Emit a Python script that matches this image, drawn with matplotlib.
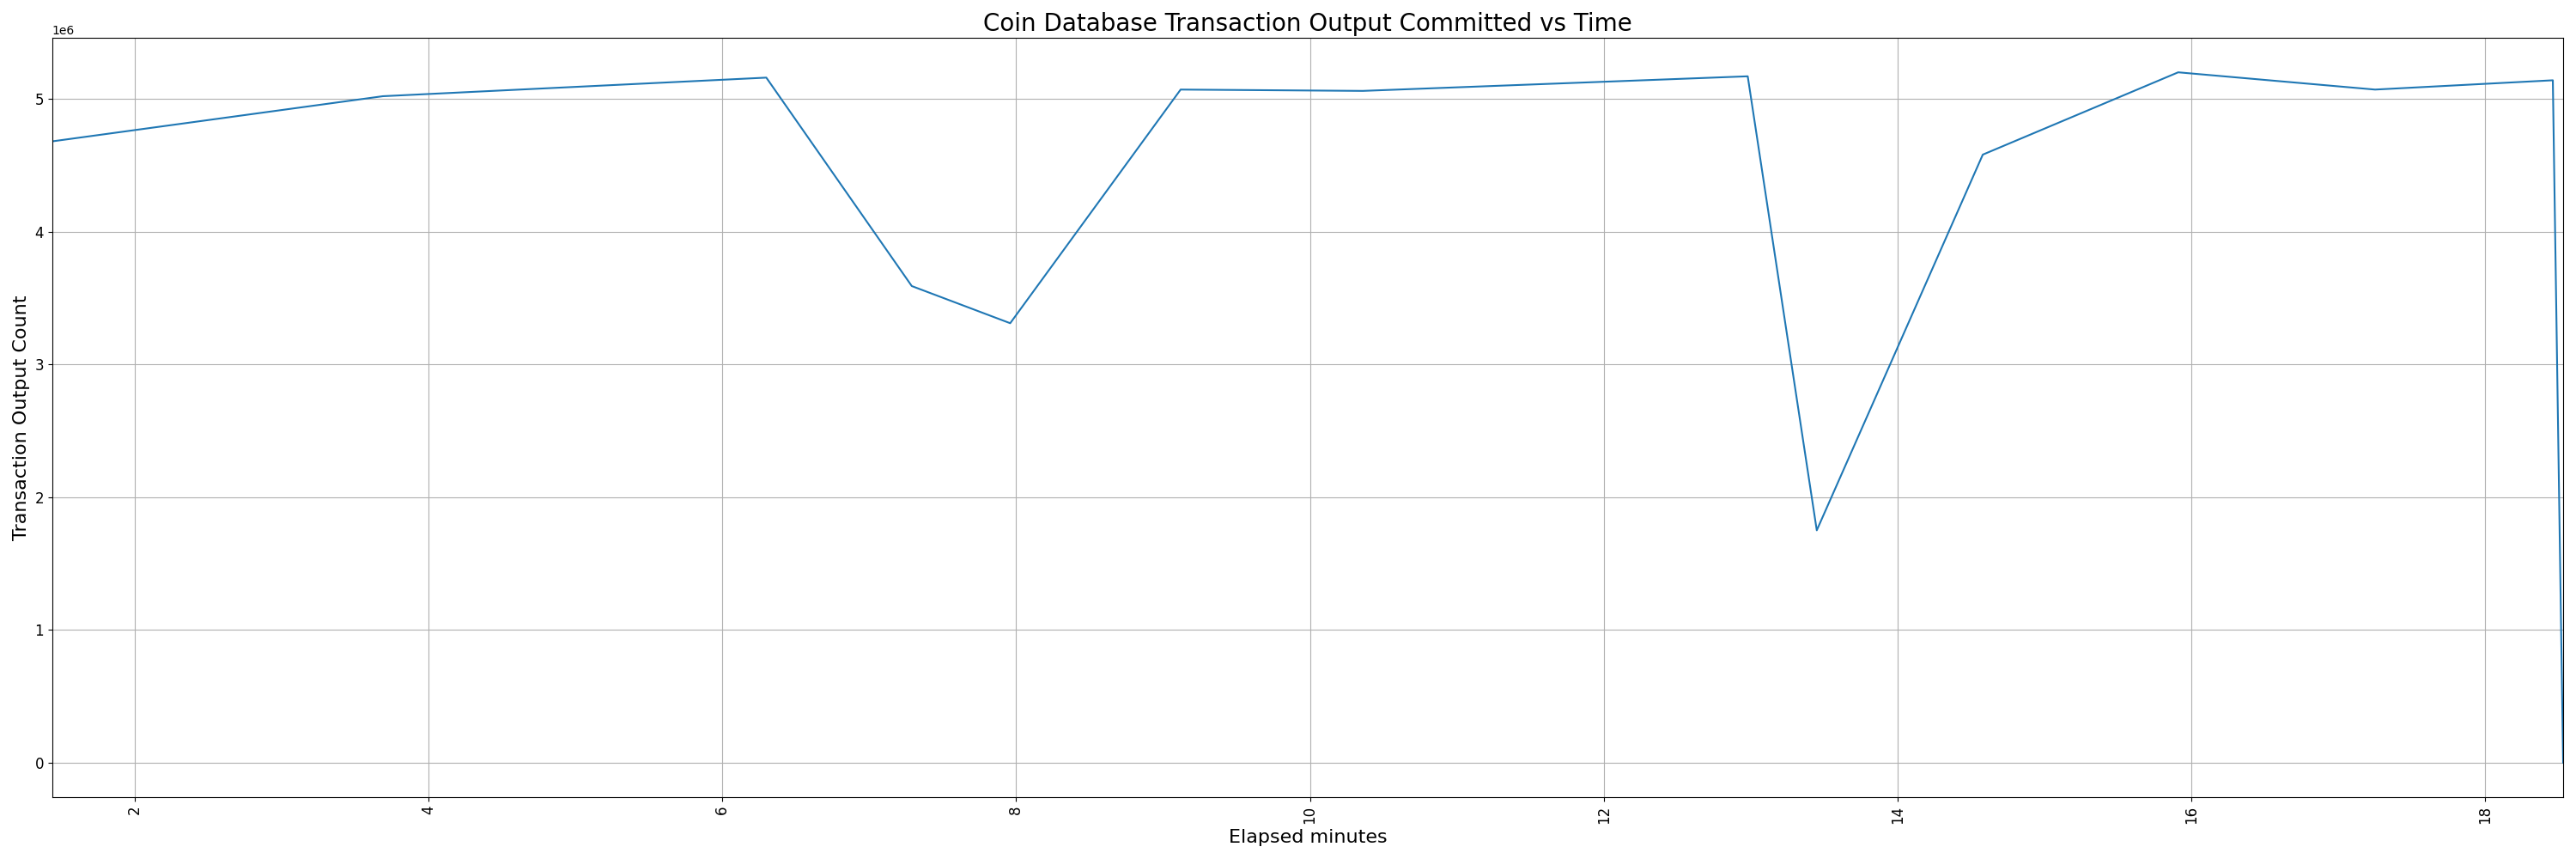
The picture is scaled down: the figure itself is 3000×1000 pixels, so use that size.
import matplotlib
matplotlib.use("Agg")
import matplotlib.pyplot as plt

# elapsed minutes vs committed transaction outputs
minutes = [1.44, 3.69, 6.30, 7.29, 7.96, 9.12, 10.36, 12.98, 13.45, 14.58, 15.91, 17.25, 18.46, 18.53]
outputs = [4.68e6, 5.02e6, 5.16e6, 3.59e6, 3.31e6, 5.07e6, 5.06e6, 5.17e6, 1.75e6, 4.58e6, 5.20e6, 5.07e6, 5.14e6, 0]

fig, ax = plt.subplots(figsize=(30, 10), dpi=100)
ax.plot(minutes, outputs, color="tab:blue")

ax.set_xlim(min(minutes), max(minutes))
ax.set_title("Coin Database Transaction Output Committed vs Time", fontsize=20)
ax.set_xlabel("Elapsed minutes", fontsize=16)
ax.set_ylabel("Transaction Output Count", fontsize=16)
ax.tick_params(axis="both", labelsize=12)
plt.xticks(rotation=90)
ax.grid(True)

plt.subplots_adjust(left=0.0203, right=0.995, top=0.956, bottom=0.072)
plt.savefig("out.png")
